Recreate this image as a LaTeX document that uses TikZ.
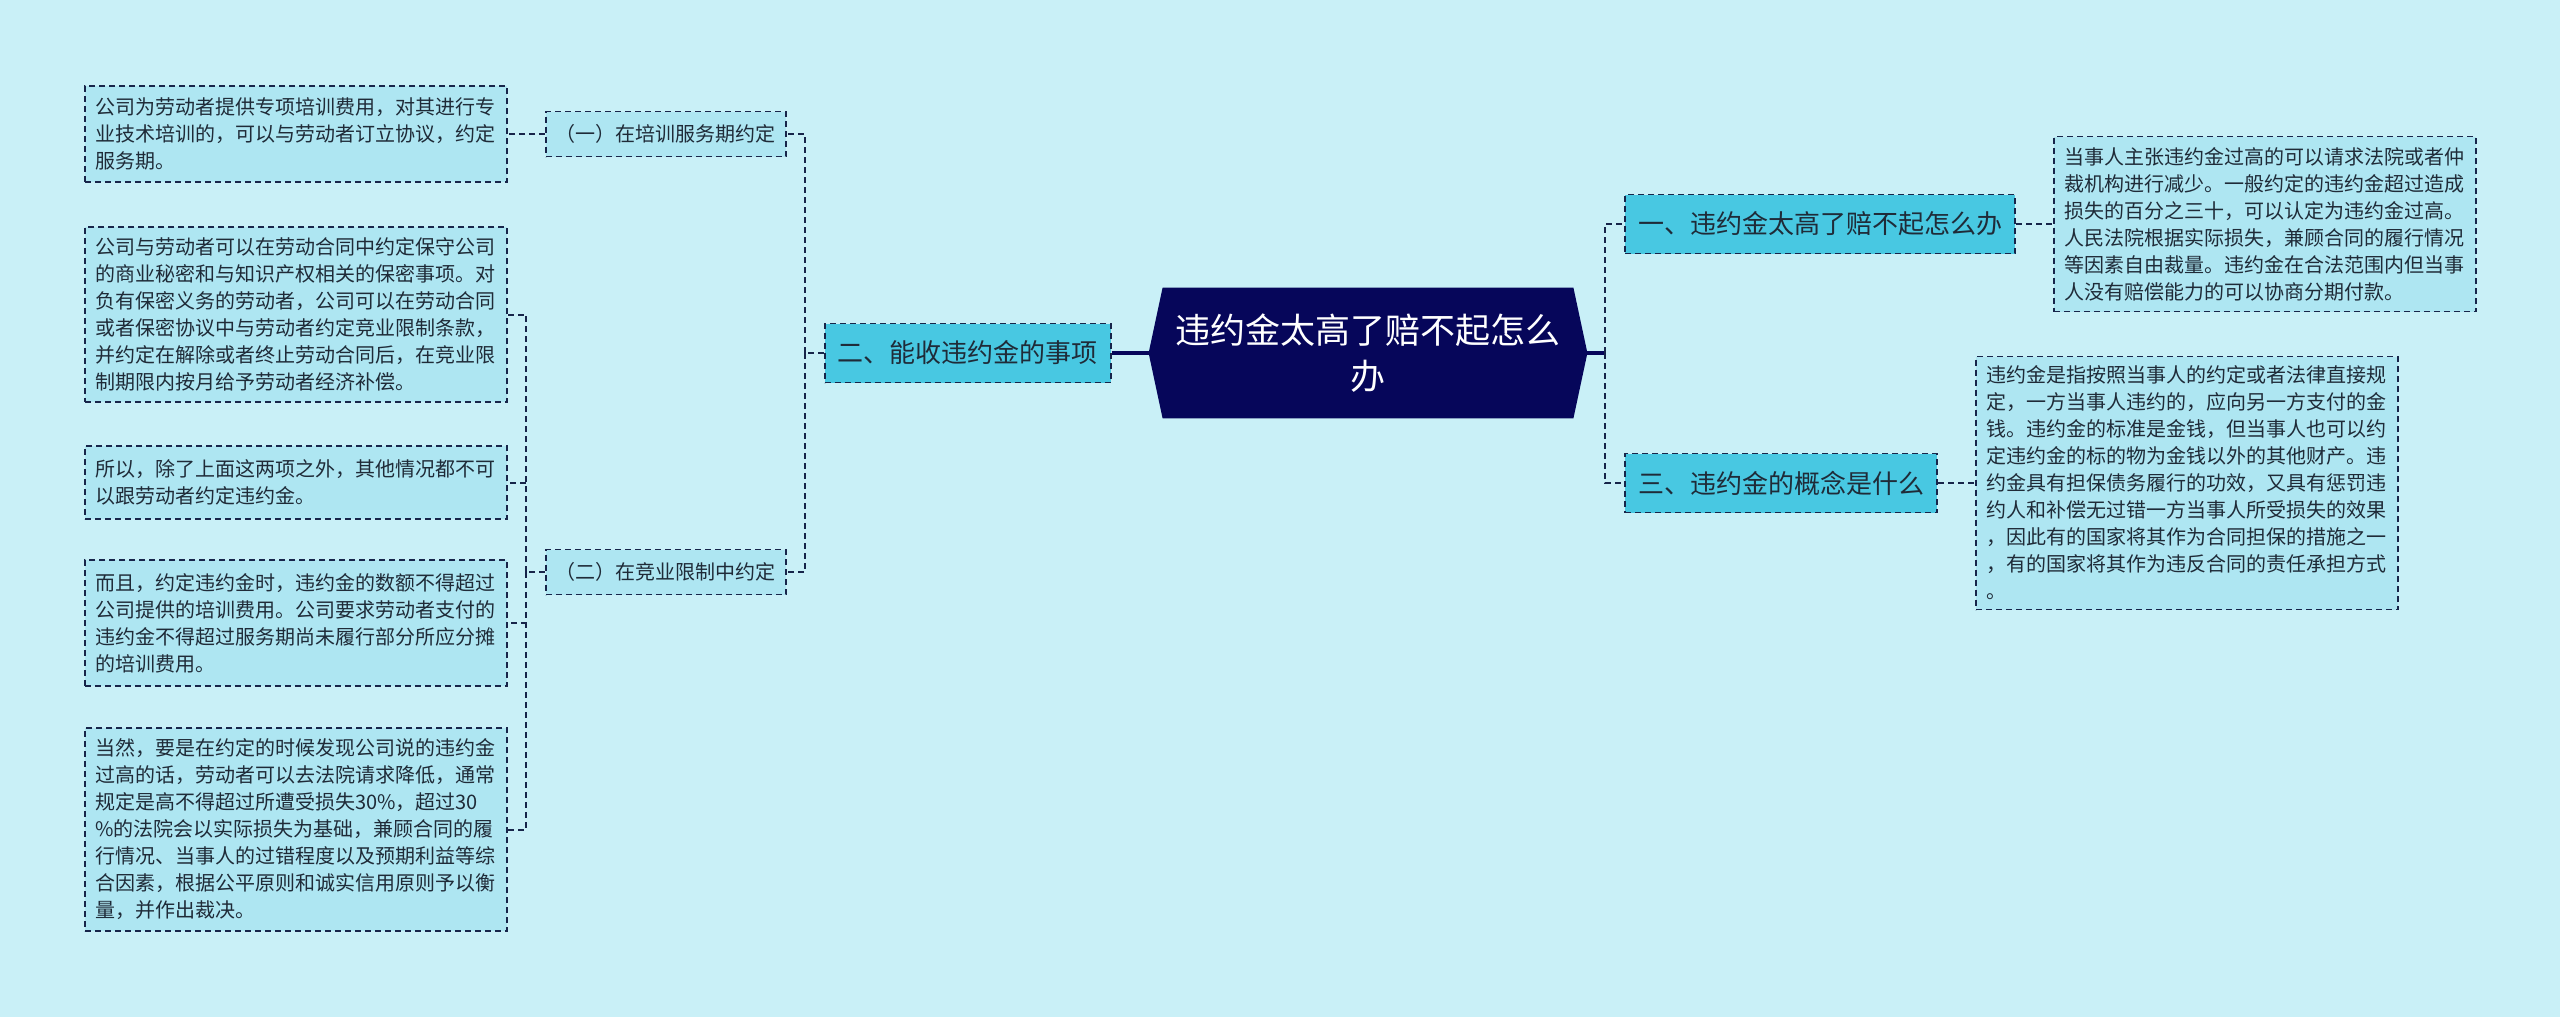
\documentclass[tikz,border=0pt]{standalone}
\usepackage{fontspec}
\setmainfont{Noto Sans CJK SC}
\usepackage{tikz}
\usetikzlibrary{positioning}
\usetikzlibrary{backgrounds}
\definecolor{bgcyan}{HTML}{C9F0F7}
\definecolor{leafblue}{HTML}{AEE6F2}
\definecolor{branchcyan}{HTML}{48C8E2}
\definecolor{rootnavy}{HTML}{06065A}
\definecolor{linenavy}{HTML}{17254A}
\definecolor{textdark}{HTML}{1F2B38}

\begin{document}
\begin{tikzpicture}[
    node distance=18.5pt, % same gap between all levels
    ]
% -------------------------------------------------
\tikzset{
  base/.style={draw=linenavy, line width=0.9pt, dash pattern=on 3pt off 2pt, text=textdark, inner sep=0pt},
  leaf/.style={base, fill=leafblue, text width=201pt, inner xsep=5pt, align=left, font=\fontsize{10}{13.5}\selectfont},
  sub/.style={base, fill=leafblue, inner xsep=5pt, minimum height=22.5pt, font=\fontsize{10}{12}\selectfont},
  branch/.style={base, fill=branchcyan, inner xsep=6.5pt, minimum height=29.5pt, font=\fontsize{13}{15}\selectfont},
  rootnode/.style={minimum width=219pt, minimum height=65pt, text width=193pt, align=center, text=white, font=\fontsize{17.5}{23}\selectfont},
  link/.style={draw=linenavy, line width=1pt, dash pattern=on 3pt off 2pt},
  rootline/.style={draw=rootnavy, line width=1.6pt}
}
\useasboundingbox (0,0) rectangle (1280pt,-508.5pt);
\node [rootnode] (root) at (684pt,-176.5pt) {违约金太高了赔不起怎么\\办};
\node [branch, left=of root] (cando) {二、能收违约金的事项};
\node [branch, right=of root, yshift=64.5pt] (toohigh) {一、违约金太高了赔不起怎么办};
\node [branch, right=of root, yshift=-65pt] (concept) {三、违约金的概念是什么};
\node [sub, left=of cando, yshift=109.5pt] (train) {（一）在培训服务期约定};
\node [sub, left=of cando, yshift=-109.5pt] (compete) {（二）在竞业限制中约定};
\node [leaf, minimum height=48pt, left=of train] (trainfee) {公司为劳动者提供专项培训费用，对其进行专\\业技术培训的，可以与劳动者订立协议，约定\\服务期。};
\node [leaf, minimum height=87.5pt, left=of compete, yshift=128.75pt] (secret) {公司与劳动者可以在劳动合同中约定保守公司\\的商业秘密和与知识产权相关的保密事项。对\\负有保密义务的劳动者，公司可以在劳动合同\\或者保密协议中与劳动者约定竞业限制条款，\\并约定在解除或者终止劳动合同后，在竞业限\\制期限内按月给予劳动者经济补偿。};
\node [leaf, minimum height=36.5pt, left=of compete, yshift=44.75pt] (onlytwo) {所以，除了上面这两项之外，其他情况都不可\\以跟劳动者约定违约金。};
\node [leaf, minimum height=63pt, left=of compete, yshift=-25.5pt] (notexceed) {而且，约定违约金时，违约金的数额不得超过\\公司提供的培训费用。公司要求劳动者支付的\\违约金不得超过服务期尚未履行部分所应分摊\\的培训费用。};
\node [leaf, minimum height=101.5pt, left=of compete, yshift=-128.75pt] (court) {当然，要是在约定的时候发现公司说的违约金\\过高的话，劳动者可以去法院请求降低，通常\\规定是高不得超过所遭受损失30\%，超过30\\\%的法院会以实际损失为基础，兼顾合同的履\\行情况、当事人的过错程度以及预期利益等综\\合因素，根据公平原则和诚实信用原则予以衡\\量，并作出裁决。};
\node [leaf, minimum height=87.5pt, right=of toohigh] (reduce) {当事人主张违约金过高的可以请求法院或者仲\\裁机构进行减少。一般约定的违约金超过造成\\损失的百分之三十，可以认定为违约金过高。\\人民法院根据实际损失，兼顾合同的履行情况\\等因素自由裁量。违约金在合法范围内但当事\\人没有赔偿能力的可以协商分期付款。};
\node [leaf, minimum height=126.5pt, right=of concept] (define) {违约金是指按照当事人的约定或者法律直接规\\定，一方当事人违约的，应向另一方支付的金\\钱。违约金的标准是金钱，但当事人也可以约\\定违约金的标的物为金钱以外的其他财产。违\\约金具有担保债务履行的功效，又具有惩罚违\\约人和补偿无过错一方当事人所受损失的效果\\，因此有的国家将其作为合同担保的措施之一\\，有的国家将其作为违反合同的责任承担方式\\。};
% connectors
\path [rootline] (cando) -- (root);
\path [rootline] (root.east) -- ++(9pt,0) coordinate (fork);
\path [link] (fork) |- (toohigh.west);
\path [link] (fork) |- (concept.west);
\path [link] (toohigh) -- (reduce);
\path [link] (concept) -- (define);
\path [link] (cando.west) -- ++(-9.5pt,0) coordinate (lfork);
\path [link] (lfork) |- (train.east);
\path [link] (lfork) |- (compete.east);
\path [link] (train) -- (trainfee);
\path [link] (compete.west) -- ++(-9.5pt,0) coordinate (cfork);
\path [link] (cfork) |- (secret.east);
\path [link] (cfork) |- (onlytwo.east);
\path [link] (cfork) |- (notexceed.east);
\path [link] (cfork) |- (court.east);
% background and root shape
\begin{scope}[on background layer]
\fill [bgcyan] (0,0) rectangle (1280pt,-508.5pt);
\fill [rootnavy] ([xshift=7pt]root.north west) -- (root.west) -- ([xshift=7pt]root.south west) -- ([xshift=-7pt]root.south east) -- (root.east) -- ([xshift=-7pt]root.north east) -- cycle;
\end{scope}
\end{tikzpicture}
\end{document}
